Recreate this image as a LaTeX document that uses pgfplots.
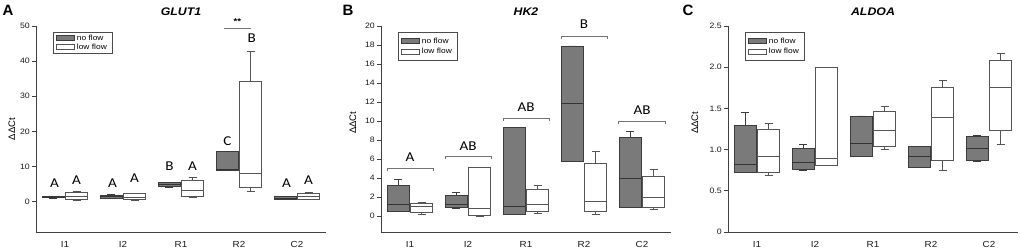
\documentclass[border=0pt]{standalone}
\usepackage{fontspec}
\setmainfont[FakeStretch=1.12]{Liberation Sans}
\newfontfamily\plainsans{Liberation Sans}
\newfontfamily\letterfont[FakeStretch=1.12]{Carlito}
\usepackage{pgfplots}
\pgfplotsset{compat=1.18}
\usepgfplotslibrary{statistics}
\definecolor{nfgray}{HTML}{7A7A7A}
\definecolor{nfedge}{HTML}{3C3C3C}
\definecolor{lfedge}{HTML}{555555}
\definecolor{axgray}{HTML}{404040}
\pgfplotsset{
  nfbox/.style={fill=nfgray, draw=nfedge, line width=0.55pt, forget plot,
    boxplot/draw direction=y,
    boxplot/box extend=0.38, boxplot/whisker extend=0.14,
    boxplot/every median/.style={draw=black!80, line width=0.7pt}},
  lfbox/.style={fill=white, draw=lfedge, line width=0.55pt, forget plot,
    boxplot/draw direction=y,
    boxplot/box extend=0.38, boxplot/whisker extend=0.14,
    boxplot/every median/.style={draw=lfedge, line width=0.55pt}},
  panel/.style={scale only axis, width=290pt, height=206pt,
    xmin=-0.5, xmax=4.5, axis x line*=bottom, axis y line*=left,
    axis line style={axgray, line width=0.7pt},
    xtick={0,1,2,3,4}, xticklabels={I1,I2,R1,R2,C2},
    x tick style={draw=none},
    y tick style={axgray, line width=0.6pt}, tick align=outside, major tick length=4pt,
    /pgf/number format/assume math mode=true,
    y tick label style={font=\fontsize{7.8}{9}\selectfont, text=black!90, inner xsep=2pt},
    x tick label style={font=\fontsize{8.8}{10}\selectfont, text=black!90, yshift=-1.5pt},
    clip=false,
    title style={font=\fontsize{11}{12}\selectfont\bfseries\itshape, at={(axis description cs:0.5,1)}, anchor=south, yshift=0.5pt},
    ylabel={ΔΔCt},
    legend cell align=left,
    legend style={at={(rel axis cs:0.059,0.971)}, anchor=north west, draw=black!70, line width=0.6pt,
      font=\fontsize{7.5}{8.5}\selectfont, inner xsep=3pt, inner ysep=0.5pt, row sep=-2pt},
  },
  nfleg/.style={legend image code/.code={\draw[fill=nfgray, draw=nfedge, line width=0.55pt] (0pt,-2.2pt) rectangle (18pt,2.8pt);}},
  lfleg/.style={legend image code/.code={\draw[fill=white, draw=lfedge, line width=0.55pt] (0pt,-2.2pt) rectangle (18pt,2.8pt);}},
}
% draw position, lower whisker, lower quartile, median, upper quartile, upper whisker
\newcommand{\nfb}[6]{\addplot[nfbox, boxplot prepared={draw position=#1, lower whisker=#2, lower quartile=#3, median=#4, upper quartile=#5, upper whisker=#6}] coordinates {};}
\newcommand{\lfb}[6]{\addplot[lfbox, boxplot prepared={draw position=#1, lower whisker=#2, lower quartile=#3, median=#4, upper quartile=#5, upper whisker=#6}] coordinates {};}
\newcommand{\lt}[3]{\node[font=\letterfont\fontsize{13.5}{14}\selectfont, inner sep=0pt] at (axis cs:#1,#2) {#3};}
\newcommand{\brk}[3]{\draw[black!55, line width=0.6pt] (axis cs:#1-0.4,#2-#3) -- (axis cs:#1-0.4,#2) -- (axis cs:#1+0.4,#2) -- (axis cs:#1+0.4,#2-#3);}
\begin{document}
\begin{tikzpicture}
\path[use as bounding box] (0pt,0pt) rectangle (1021pt,251pt);
\node[font=\plainsans\fontsize{15}{15}\selectfont\bfseries, inner sep=0pt] at (8pt,241pt) {A};
\node[font=\plainsans\fontsize{15}{15}\selectfont\bfseries, inner sep=0pt] at (348pt,241pt) {B};
\node[font=\plainsans\fontsize{15}{15}\selectfont\bfseries, inner sep=0pt] at (688pt,241pt) {C};
% ---------------- Panel A
\begin{axis}[panel, at={(36pt,19pt)}, anchor=south west, ymin=-8.6, ymax=50, ytick={0,10,20,30,40,50},
  title={GLUT1},
  ylabel style={font=\plainsans\fontsize{9.5}{10}\selectfont, at={(axis description cs:-0.083,0.5)}, anchor=center}]
\addlegendimage{nfleg}\addlegendentry{no flow}
\addlegendimage{lfleg}\addlegendentry{low flow}
\nfb{-0.2}{1.1}{1.2}{1.35}{1.5}{1.6}
\lfb{0.2}{0.4}{0.6}{1.7}{2.8}{3.0}
\nfb{0.8}{1.0}{1.1}{1.5}{1.9}{2.1}
\lfb{1.2}{0.5}{0.6}{1.3}{2.3}{2.4}
\nfb{1.8}{4.2}{4.3}{5.0}{5.5}{5.6}
\lfb{2.2}{1.3}{1.5}{3.4}{6.1}{6.9}
\nfb{2.8}{9.1}{9.1}{9.3}{14.4}{14.4}
\lfb{3.2}{3.0}{4.0}{8.0}{34.3}{42.7}
\nfb{3.8}{0.75}{0.8}{1.1}{1.5}{1.6}
\lfb{4.2}{0.75}{0.8}{1.6}{2.4}{2.6}
\lt{-0.18}{5.3}{A}\lt{0.2}{6.25}{A}
\lt{0.82}{5.3}{A}\lt{1.2}{6.6}{A}
\lt{1.8}{10.0}{B}\lt{2.2}{10.2}{A}
\lt{2.8}{17.1}{C}\lt{3.22}{46.5}{B}
\lt{3.82}{5.3}{A}\lt{4.2}{6.25}{A}
\draw[black!55, line width=0.6pt] (axis cs:2.74,49.3) -- (axis cs:3.21,49.3);
\node[font=\fontsize{8.5}{8}\selectfont\bfseries, inner sep=0pt] at (axis cs:2.97,51.3) {**};
\end{axis}
% ---------------- Panel B
\begin{axis}[panel, at={(381pt,19pt)}, anchor=south west, ymin=-1.7, ymax=20, ytick={0,2,...,20},
  title={HK2}, legend style={inner ysep=3.5pt, row sep=-0.5pt},
  ylabel style={font=\plainsans\fontsize{9.5}{10}\selectfont, at={(axis description cs:-0.097,0.53)}, anchor=center}]
\addlegendimage{nfleg}\addlegendentry{no flow}
\addlegendimage{lfleg}\addlegendentry{low flow}
\nfb{-0.2}{0.5}{0.53}{1.2}{3.23}{3.83}
\lfb{0.2}{0.14}{0.35}{1.0}{1.37}{1.4}
\nfb{0.8}{0.77}{0.88}{1.2}{2.18}{2.46}
\lfb{1.2}{0.0}{0.02}{0.77}{5.13}{5.13}
\nfb{1.8}{0.18}{0.18}{0.95}{9.28}{9.28}
\lfb{2.2}{0.32}{0.53}{1.2}{2.81}{3.23}
\nfb{2.8}{5.8}{5.8}{11.85}{17.9}{17.9}
\lfb{3.2}{0.18}{0.49}{1.55}{5.59}{6.82}
\nfb{3.8}{0.9}{0.95}{3.94}{8.33}{8.93}
\lfb{4.2}{0.67}{0.95}{1.93}{4.22}{4.89}
\brk{0}{5.06}{0.3}\lt{0}{6.2}{A}
\brk{1}{6.3}{0.3}\lt{1}{7.35}{AB}
\brk{2}{10.26}{0.3}\lt{2}{11.4}{AB}
\brk{3}{18.9}{0.3}\lt{3}{20.2}{B}
\brk{4}{10.0}{0.3}\lt{4}{11.1}{AB}
\end{axis}
% ---------------- Panel C
\begin{axis}[panel, at={(728pt,19pt)}, anchor=south west, ymin=0, ymax=2.5, ytick={0,0.5,1,1.5,2,2.5},
  yticklabels={0,0.5,1.0,1.5,2.0,2.5},
  title={ALDOA}, legend style={inner ysep=3.5pt, row sep=-0.5pt},
  ylabel style={font=\plainsans\fontsize{9.5}{10}\selectfont, at={(axis description cs:-0.114,0.53)}, anchor=center}]
\addlegendimage{nfleg}\addlegendentry{no flow}
\addlegendimage{lfleg}\addlegendentry{low flow}
\nfb{-0.2}{0.72}{0.73}{0.82}{1.30}{1.45}
\lfb{0.2}{0.69}{0.72}{0.92}{1.25}{1.32}
\nfb{0.8}{0.755}{0.76}{0.85}{1.01}{1.06}
\lfb{1.2}{0.81}{0.81}{0.90}{2.0}{2.0}
\nfb{1.8}{0.92}{0.92}{1.07}{1.41}{1.41}
\lfb{2.2}{1.0}{1.04}{1.23}{1.46}{1.52}
\nfb{2.8}{0.79}{0.79}{0.92}{1.04}{1.04}
\lfb{3.2}{0.755}{0.87}{1.39}{1.76}{1.84}
\nfb{3.8}{0.86}{0.87}{1.02}{1.165}{1.17}
\lfb{4.2}{1.06}{1.23}{1.76}{2.08}{2.17}
\end{axis}
\end{tikzpicture}
\end{document}
